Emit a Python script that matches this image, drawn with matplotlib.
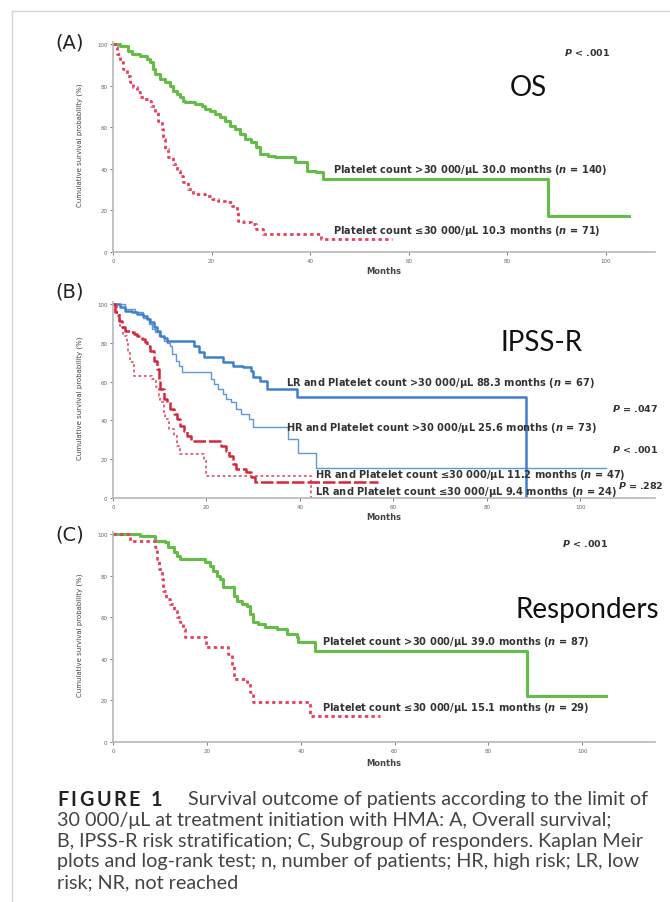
import matplotlib.pyplot as plt
from matplotlib.lines import Line2D

# (A) overall survival, platelet count >30 000 / <=30 000
os_hi_t = [0, 1.4, 3.1, 3.8, 5.5, 6.8, 7.5, 8.2, 8.5, 9.5, 10.5, 11.6, 12.2, 12.9, 13.6, 14.3, 14.6, 16.6, 18.0, 18.7,
           19.7, 20.7, 21.7, 22.7, 23.7, 24.7, 25.8, 26.8, 28.1, 29.1, 29.8, 31.5, 32.9, 36.9, 39.3, 41.3, 42.7, 88.3, 104.8]
os_hi_s = [100, 99.2, 96.8, 95.2, 94.4, 92.8, 91.2, 88.0, 85.6, 83.2, 81.6, 80.0, 77.6, 76.0, 74.4, 72.8, 72.0, 71.2, 70.4, 68.8,
           68.0, 66.3, 64.7, 63.1, 60.7, 59.1, 56.7, 54.3, 52.7, 50.3, 47.1, 46.3, 45.5, 43.1, 39.1, 38.3, 35.1, 17.5, 17.5]
os_lo_t = [0, 0.4, 0.9, 1.4, 2.1, 2.8, 3.4, 4.1, 4.8, 5.5, 6.2, 7.2, 7.8, 8.5, 9.2, 9.9, 10.2, 10.5, 11.2, 12.2,
           12.9, 13.6, 14.3, 15.3, 16.3, 18.7, 20.0, 21.4, 22.7, 24.1, 25.1, 25.4, 26.4, 28.1, 29.1, 30.5, 42.2, 56.6]
os_lo_s = [100, 98.4, 95.2, 91.2, 88.0, 84.8, 81.6, 79.2, 76.8, 74.4, 73.6, 72.8, 70.4, 67.1, 63.1, 59.1, 54.3, 49.5, 45.5, 42.3,
           39.1, 36.7, 33.5, 30.3, 27.9, 27.1, 25.5, 24.7, 23.9, 22.3, 19.1, 15.1, 14.3, 13.5, 11.1, 8.7, 6.2, 6.2]

# (B) IPSS-R groups
lr_hi_t = [0, 1.5, 2.6, 4.0, 5.1, 6.5, 7.3, 8.0, 8.7, 9.4, 10.1, 10.9, 11.6, 17.3, 18.4, 19.5, 23.5, 25.6, 27.8, 29.6,
           29.9, 31.4, 33.0, 39.3, 88.3]
lr_hi_s = [100, 98.3, 96.6, 95.7, 94.8, 94.0, 92.3, 90.5, 88.0, 86.3, 83.7, 82.3, 81.0, 78.5, 75.5, 72.5, 70.0, 68.2, 67.4, 65.6,
           62.2, 60.5, 56.2, 51.9, 0]
hr_hi_t = [0, 2.6, 4.7, 6.5, 7.6, 8.3, 9.0, 9.8, 10.9, 11.6, 12.3, 12.7, 13.4, 14.1, 14.8, 20.9, 21.7, 22.4, 23.5, 24.2,
           25.3, 26.3, 27.4, 29.2, 29.9, 37.5, 39.6, 43.4, 105.5]
hr_hi_s = [100, 97.4, 95.7, 93.0, 89.7, 87.0, 85.4, 83.7, 81.0, 80.0, 78.5, 74.2, 70.8, 68.2, 64.8, 61.3, 58.8, 56.2, 53.6, 51.0,
           49.3, 45.9, 43.3, 40.7, 36.4, 30.4, 23.0, 15.5, 15.5]
hr_lo_t = [0, 0.4, 1.2, 1.9, 2.6, 3.7, 4.4, 5.1, 6.2, 6.9, 7.3, 8.0, 8.7, 9.4, 9.8, 10.1, 10.9, 11.6, 12.3, 13.0,
           13.7, 14.4, 15.1, 15.8, 16.6, 23.1, 24.2, 24.9, 25.6, 26.3, 28.5, 29.6, 30.3, 56.8]
hr_lo_s = [100, 95.7, 91.4, 88.0, 86.3, 85.4, 84.5, 83.7, 82.0, 80.2, 78.5, 76.0, 70.8, 66.5, 61.3, 56.2, 51.0, 49.3, 45.9, 43.3,
           40.7, 37.3, 34.7, 32.1, 29.6, 27.0, 24.4, 21.8, 17.5, 15.0, 13.2, 10.7, 8.0, 8.0]
lr_lo_t = [0, 0.8, 1.5, 2.2, 2.9, 3.3, 3.7, 4.4, 8.3, 9.1, 9.8, 10.1, 10.9, 11.2, 11.9, 13.0, 13.7, 14.4, 19.5, 19.9, 42.3]
lr_lo_s = [100, 94.0, 88.8, 83.7, 80.2, 75.0, 70.0, 63.0, 61.3, 57.0, 52.7, 49.3, 44.2, 40.7, 35.6, 32.1, 27.0, 22.7, 20.1, 11.5, 0]

# (C) responders
rs_hi_t = [0, 5.8, 9.0, 11.1, 11.8, 12.9, 13.6, 14.3, 19.6, 20.7, 21.4, 22.1, 22.8, 23.5, 25.7, 26.4, 27.4, 28.5, 29.2, 29.9,
           31.0, 32.4, 34.9, 37.0, 39.2, 39.5, 43.1, 88.3, 105.0]
rs_hi_s = [100, 99.2, 96.8, 96.0, 93.6, 91.2, 89.6, 88.0, 86.4, 84.8, 82.4, 80.0, 78.4, 74.4, 70.4, 67.9, 66.3, 65.5, 61.5, 57.5,
           56.7, 55.1, 54.3, 51.9, 50.3, 47.9, 43.9, 22.2, 22.2]
rs_lo_t = [0, 3.6, 9.0, 9.3, 9.7, 10.4, 10.7, 11.4, 12.2, 12.9, 13.6, 14.3, 15.0, 15.4, 19.9, 24.6, 25.3, 25.7, 28.5, 29.2,
           29.9, 42.0, 56.8]
rs_lo_s = [100, 96.8, 93.6, 88.0, 83.2, 78.4, 72.8, 68.8, 66.3, 63.1, 59.9, 57.5, 54.3, 50.3, 45.5, 42.3, 36.7, 30.3, 28.7, 23.9,
           19.1, 12.7, 12.7]

ticks = [0, 20, 40, 60, 80, 100]

caption_first = "Survival outcome of patients according to the limit of"
caption = ["30 000/\u03bcL at treatment initiation with HMA: A, Overall survival;",
           "B, IPSS-R risk stratification; C, Subgroup of responders. Kaplan Meir",
           "plots and log-rank test; n, number of patients; HR, high risk; LR, low",
           "risk; NR, not reached"]

plt.rcParams['font.family'] = ['DejaVu Sans']
plt.rcParams['mathtext.fontset'] = 'custom'
plt.rcParams['mathtext.it'] = 'DejaVu Sans:italic:bold'
plt.rcParams['mathtext.rm'] = 'DejaVu Sans:bold'
plt.rcParams['mathtext.bf'] = 'DejaVu Sans:bold'

W, H = 670, 903
fig = plt.figure(figsize=(W / 100, H / 100), dpi=100)
fig.patch.set_facecolor('white')

GREEN = '#64bd46'
PINK = '#e6405c'
BLUE = '#3f7fcf'
BLUE2 = '#5f97d8'
RED = '#d3283c'
RED2 = '#e45a70'


def ftext(x, y, s, **kw):
    # place text in pixel coords of the page
    return fig.text(x / W, 1 - y / H, s, **kw)


def make_ax(y0, y100, xmax):
    hpx = (y0 - y100) * 1.01
    ax = fig.add_axes([113 / W, 1 - y0 / H, 542 / W, hpx / H])
    ax.set_xlim(0, xmax)
    ax.set_ylim(0, 101)
    for sp in ['top', 'right']:
        ax.spines[sp].set_visible(False)
    for sp in ['left', 'bottom']:
        ax.spines[sp].set_color('#b8b8b8')
        ax.spines[sp].set_linewidth(1.2)
    ax.set_xticks(ticks)
    ax.set_yticks(ticks)
    ax.tick_params(labelsize=4, colors='#666666', length=2, width=0.6, pad=2)
    return ax


lbl = dict(fontsize=7.1, fontweight='bold', color='#333333', va='center', ha='left')
ptxt = dict(fontsize=6.8, fontweight='bold', color='#333333', va='center', ha='left')

# ---- (A)
axA = make_ax(253, 45, 110)
axA.step(os_hi_t, os_hi_s, where='post', color=GREEN, lw=2.2)
axA.step(os_lo_t, os_lo_s, where='post', color=PINK, lw=2.0, linestyle=(0, (1.2, 1.2)))
axA.text(44.6, 40, r'Platelet count >30 000/$\mathrm{\mu}$L 30.0 months ($n$ = 140)', **lbl)
axA.text(44.6, 10.6, r'Platelet count ≤30 000/$\mathrm{\mu}$L 10.3 months ($n$ = 71)', **lbl)
axA.text(91.5, 96.6, r'$P$ < .001', **ptxt)
axA.text(80.5, 79.3, 'OS', fontsize=20, family='Lato', va='center', ha='left', color='#111111')

# ---- (B)
axB = make_ax(499, 305, 116)
axB.step(hr_hi_t, hr_hi_s, where='post', color=BLUE2, lw=1.0)
axB.step(lr_hi_t, lr_hi_s, where='post', color=BLUE, lw=1.8)
axB.step(lr_lo_t, lr_lo_s, where='post', color=RED2, lw=1.3, linestyle=(0, (1.5, 1.5)))
axB.step(hr_lo_t, hr_lo_s, where='post', color=RED, lw=1.8, linestyle=(0, (5, 1.2)))
axB.text(37.1, 59.8, r'LR and Platelet count >30 000/$\mathrm{\mu}$L 88.3 months ($n$ = 67)', **lbl)
axB.text(37.1, 36.6, r'HR and Platelet count >30 000/$\mathrm{\mu}$L 25.6 months ($n$ = 73)', **lbl)
axB.text(43.2, 12.4, r'HR and Platelet count ≤30 000/$\mathrm{\mu}$L 11.2 months ($n$ = 47)', **lbl)
axB.text(43.2, 3.8, r'LR and Platelet count ≤30 000/$\mathrm{\mu}$L 9.4 months ($n$ = 24)', **lbl)
axB.text(83, 80.4, 'IPSS-R', fontsize=20, family='Lato', va='center', ha='left', color='#111111')
ftext(612, 408, r'$P$ = .047', **ptxt)
ftext(612, 450, r'$P$ < .001', **ptxt)
ftext(618, 486, r'$P$ = .282', **ptxt)

# ---- (C)
axC = make_ax(743, 535, 115.5)
axC.step(rs_hi_t, rs_hi_s, where='post', color=GREEN, lw=2.2)
axC.step(rs_lo_t, rs_lo_s, where='post', color=PINK, lw=2.0, linestyle=(0, (1.2, 1.2)))
axC.text(44.6, 48.7, r'Platelet count >30 000/$\mathrm{\mu}$L 39.0 months ($n$ = 87)', **lbl)
axC.text(44.6, 16.7, r'Platelet count ≤30 000/$\mathrm{\mu}$L 15.1 months ($n$ = 29)', **lbl)
axC.text(95.7, 95.7, r'$P$ < .001', **ptxt)
axC.text(85.7, 64, 'Responders', fontsize=20, family='Lato', va='center', ha='left', color='#111111')

# axis titles and panel letters
for letter, ytop, ymid, ymonths in [('(A)', 43, 145, 272), ('(B)', 292, 398, 518), ('(C)', 535, 635, 764)]:
    ftext(55, ytop, letter, fontsize=14, va='center', ha='left', color='#222222')
    ftext(80, ymid, 'Cumulative survival probability (%)', fontsize=5, rotation=90,
          va='center', ha='center', color='#444444')
    ftext(384, ymonths, 'Months', fontsize=6, fontweight='bold', va='center', ha='center', color='#444444')

# page border of the screenshot
fig.add_artist(Line2D([12 / W, 12 / W], [0, 1 - 12 / H], color='#d4d4d4', lw=1))
fig.add_artist(Line2D([12 / W, 1], [1 - 12 / H, 1 - 12 / H], color='#d4d4d4', lw=1))

# caption, "FIGURE 1" letter-spaced
cap = dict(fontsize=14.2, family='Lato', va='center', ha='left')
renderer = fig.canvas.get_renderer()
x = 57
for ch in 'FIGURE 1':
    t = ftext(x, 800, ch, fontweight='bold', color='#222222', **cap)
    x += t.get_window_extent(renderer).width + 2.6
ftext(188, 800, caption_first, color='#444444', **cap)
for i, line in enumerate(caption):
    ftext(57, 821 + i * 20.5, line, color='#444444', **cap)

fig.savefig('out.png', dpi=100)
